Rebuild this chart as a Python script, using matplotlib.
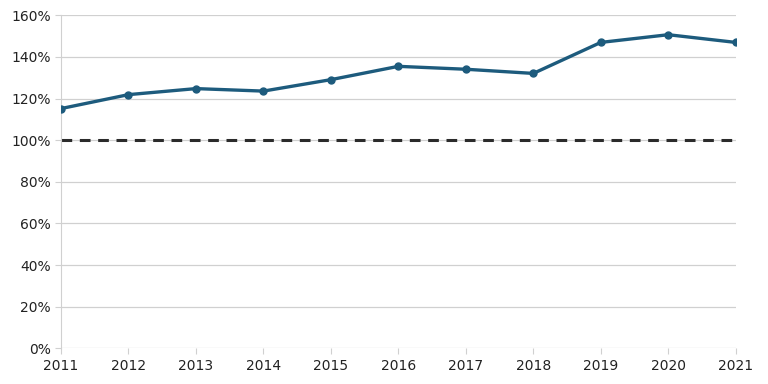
import matplotlib
matplotlib.use('Agg')
import matplotlib.pyplot as plt
from matplotlib.ticker import FuncFormatter

# Data
years = [2011, 2012, 2013, 2014, 2015, 2016, 2017, 2018, 2019, 2020, 2021]
ratio = [115.2, 121.9, 124.8, 123.6, 129.1, 135.5, 134.1, 132.1, 147.0, 150.7, 147.0]
reference_level = 100

LINE_COLOR = '#1d5b7d'
GRID_COLOR = '#d0d0d0'

fig = plt.figure(figsize=(7.68, 3.84), dpi=100)
ax = fig.add_axes([0.0794, 0.093, 0.8786, 0.867])

ax.axhline(reference_level, color='#2b2b2b', lw=2.2, ls=(0, (3.5, 2.5)), zorder=2)
ax.plot(years, ratio, color=LINE_COLOR, lw=2.4, marker='o', ms=5, zorder=3)

ax.set_xlim(years[0], years[-1])
ax.set_ylim(0, 160)
ax.set_xticks(years)
ax.set_yticks(range(0, 161, 20))
ax.yaxis.set_major_formatter(FuncFormatter(lambda v, _: f'{v:.0f}%'))

ax.grid(axis='y', color=GRID_COLOR, lw=0.9)
ax.set_axisbelow(True)
for side in ('top', 'right', 'bottom'):
    ax.spines[side].set_visible(False)
ax.spines['left'].set_color(GRID_COLOR)
ax.tick_params(axis='x', length=4, color=GRID_COLOR, labelsize=10, colors='#222222')
ax.tick_params(axis='x', color=GRID_COLOR)
ax.tick_params(axis='y', length=4, color=GRID_COLOR, labelsize=10, labelcolor='#222222')

fig.savefig('out.png', dpi=100)
